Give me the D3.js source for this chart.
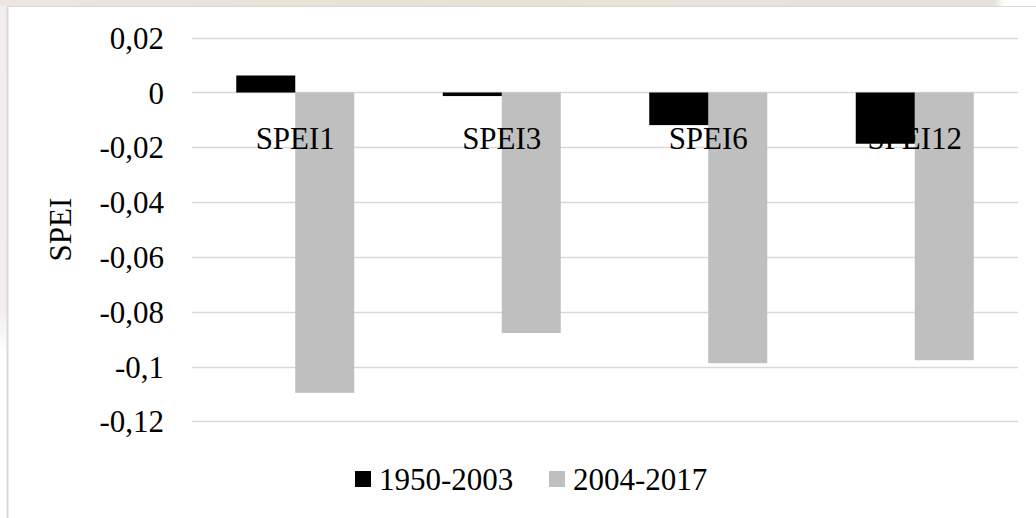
<!DOCTYPE html>
<html>
<head>
<meta charset="utf-8">
<script src="https://cdn.jsdelivr.net/npm/d3@7/dist/d3.min.js"></script>
<style>
  html, body { margin: 0; padding: 0; background: #ffffff; }
  svg { display: block; }
  text { font-family: "Liberation Serif", "Times New Roman", serif; fill: #000; }
</style>
</head>
<body>
<svg id="chart" width="1036" height="518"></svg>
<script>
// SPEI index means by period
const categories = ["SPEI1", "SPEI3", "SPEI6", "SPEI12"];
const seriesNames = ["1950-2003", "2004-2017"];
const values1950_2003 = [0.0062, -0.0013, -0.0119, -0.0187];
const values2004_2017 = [-0.1096, -0.0878, -0.0988, -0.0977];
const seriesColors = ["#000000", "#bfbfbf"];
const yTicks = [0.02, 0, -0.02, -0.04, -0.06, -0.08, -0.1, -0.12];
const yTickLabels = ["0,02", "0", "-0,02", "-0,04", "-0,06", "-0,08", "-0,1", "-0,12"];
const yTitle = "SPEI";

const seriesValues = [values1950_2003, values2004_2017];

const svg = d3.select("#chart");
const W = 1036, H = 518;

// faded backdrop strip around the chart frame
const defs = svg.append("defs");
const grad = defs.append("linearGradient").attr("id", "bgStrip").attr("x1", 0).attr("x2", 1);
grad.append("stop").attr("offset", "0%").attr("stop-color", "#eee5e2");
grad.append("stop").attr("offset", "35%").attr("stop-color", "#e6e3d6");
grad.append("stop").attr("offset", "70%").attr("stop-color", "#e9e2da");
grad.append("stop").attr("offset", "96%").attr("stop-color", "#e4e2d8");
grad.append("stop").attr("offset", "97%").attr("stop-color", "#ffffff");
const vgrad = defs.append("linearGradient").attr("id", "bgSide").attr("x1", 0).attr("x2", 0).attr("y1", 0).attr("y2", 1);
vgrad.append("stop").attr("offset", "0%").attr("stop-color", "#f4eeee");
vgrad.append("stop").attr("offset", "60%").attr("stop-color", "#f3efee");
vgrad.append("stop").attr("offset", "68%").attr("stop-color", "#ffffff");
svg.append("rect").attr("x", 0).attr("y", 0).attr("width", W).attr("height", 6).attr("fill", "url(#bgStrip)");
svg.append("rect").attr("x", 0).attr("y", 6).attr("width", 7).attr("height", H - 6).attr("fill", "url(#bgSide)");

// chart area
svg.append("rect").attr("x", 7).attr("y", 6).attr("width", W - 7).attr("height", H - 6).attr("fill", "#ffffff");
svg.append("line").attr("x1", 7.5).attr("x2", 7.5).attr("y1", 6).attr("y2", H).attr("stroke", "#d9d9d9").attr("stroke-width", 2);
svg.append("line").attr("x1", 7).attr("x2", W).attr("y1", 6.5).attr("y2", 6.5).attr("stroke", "#d9d9d9").attr("stroke-width", 1);

const plotLeft = 192, plotRight = 1018;
const y = d3.scaleLinear().domain([-0.12, 0.02]).range([421.3, 37.7]);
const x0 = d3.scaleBand().domain(categories).range([plotLeft, plotRight]).padding(0);
const x1 = d3.scaleBand().domain(seriesNames).range([0, x0.bandwidth()]).paddingInner(0).paddingOuter(0.75);

// gridlines
svg.append("g")
  .selectAll("line")
  .data(yTicks)
  .join("line")
  .attr("x1", plotLeft).attr("x2", plotRight)
  .attr("y1", d => Math.round(y(d)) + 0.5).attr("y2", d => Math.round(y(d)) + 0.5)
  .attr("stroke", "#d9d9d9").attr("stroke-width", 1.5);

// y axis labels
const yAxis = d3.axisLeft(y).tickValues(yTicks).tickSize(0).tickPadding(0)
  .tickFormat((d, i) => yTickLabels[i]);
const yg = svg.append("g").attr("transform", `translate(164,0)`).call(yAxis);
yg.select(".domain").remove();
yg.selectAll("text")
  .attr("font-family", "Liberation Serif, Times New Roman, serif")
  .attr("font-size", 31).attr("fill", "#000").attr("dy", "0.34em");

// bars: grey series first, then labels, then black series on top
const groups = svg.append("g")
  .selectAll("g")
  .data(categories)
  .join("g")
  .attr("transform", d => `translate(${x0(d)},0)`);

groups.append("rect")
  .attr("x", x1(seriesNames[1]))
  .attr("width", x1.bandwidth())
  .attr("y", (c, ci) => y(Math.max(0, values2004_2017[ci])))
  .attr("height", (c, ci) => Math.abs(y(values2004_2017[ci]) - y(0)))
  .attr("fill", seriesColors[1]);

// category labels below the zero line
svg.append("g")
  .selectAll("text")
  .data(categories)
  .join("text")
  .attr("x", d => x0(d) + x0.bandwidth() / 2)
  .attr("y", 149)
  .attr("text-anchor", "middle")
  .attr("font-size", 31)
  .text(d => d);

svg.append("g")
  .selectAll("rect")
  .data(categories)
  .join("rect")
  .attr("x", d => x0(d) + x1(seriesNames[0]))
  .attr("width", x1.bandwidth())
  .attr("y", (c, ci) => y(Math.max(0, values1950_2003[ci])))
  .attr("height", (c, ci) => Math.abs(y(values1950_2003[ci]) - y(0)))
  .attr("fill", seriesColors[0]);

// y axis title
svg.append("text")
  .attr("transform", `translate(71,${(y(0.02) + y(-0.12)) / 2}) rotate(-90)`)
  .attr("text-anchor", "middle")
  .attr("font-size", 31)
  .text(yTitle);

// legend
const legendX = [355, 549];
const legend = svg.append("g")
  .selectAll("g")
  .data(seriesNames)
  .join("g")
  .attr("transform", (d, i) => `translate(${legendX[i]},0)`);
legend.append("rect").attr("x", 0).attr("y", 471).attr("width", 16).attr("height", 16)
  .attr("fill", (d, i) => seriesColors[i]);
legend.append("text").attr("x", 24).attr("y", 490).attr("font-size", 31).text(d => d);
</script>
</body>
</html>
